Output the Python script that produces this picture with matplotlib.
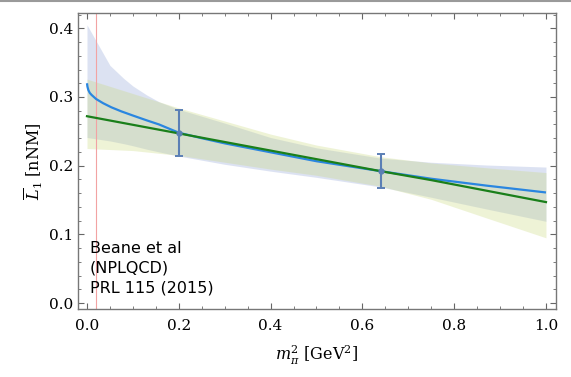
import matplotlib
matplotlib.use("Agg")
import matplotlib.pyplot as plt
from matplotlib.lines import Line2D
from matplotlib.ticker import MultipleLocator

plt.rcParams['font.family'] = ['DejaVu Serif']
plt.rcParams['mathtext.fontset'] = 'dejavuserif'

# ----- data -----
# chiral fit (blue) and its error band
chi_x = [0.0, 0.001, 0.003, 0.006, 0.01, 0.02, 0.035, 0.053, 0.075, 0.1, 0.13, 0.157, 0.2,
         0.25, 0.3, 0.4, 0.5, 0.64, 0.75, 0.87, 1.0]
chi_y = [0.320, 0.315, 0.310, 0.306, 0.303, 0.297, 0.291, 0.285, 0.279, 0.273, 0.266, 0.260, 0.248,
         0.240, 0.2325, 0.2195, 0.2065, 0.192, 0.181, 0.171, 0.161]
chi_band_x = [0.0, 0.05, 0.08, 0.1, 0.13, 0.157, 0.2, 0.25, 0.3, 0.4, 0.5, 0.64, 0.75, 0.87, 1.0]
chi_hi = [0.405, 0.346, 0.327, 0.316, 0.303, 0.293, 0.282, 0.272, 0.262, 0.241, 0.226, 0.211,
          0.205, 0.201, 0.198]
chi_lo = [0.241, 0.236, 0.232, 0.229, 0.224, 0.220, 0.214, 0.208, 0.202, 0.192, 0.183, 0.169,
          0.154, 0.137, 0.119]

# linear fit (green) and its error band
lin_x = [0.0, 0.2, 0.64, 0.75, 1.0]
lin_y = [0.272, 0.247, 0.192, 0.179, 0.147]
lin_band_x = [0.0, 0.1, 0.2, 0.3, 0.4, 0.5, 0.64, 0.75, 0.87, 1.0]
lin_hi = [0.326, 0.305, 0.284, 0.265, 0.246, 0.230, 0.213, 0.204, 0.197, 0.190]
lin_lo = [0.225, 0.222, 0.215, 0.205, 0.195, 0.186, 0.170, 0.151, 0.124, 0.095]

# lattice points
lat_x = [0.2, 0.64]
lat_y = [0.247, 0.192]
lat_hi = [0.281, 0.217]
lat_lo = [0.2135, 0.168]

mpi2_phys = 0.0195

# ----- plot -----
fig = plt.figure(figsize=(5.71, 3.77), dpi=100)
ax = fig.add_axes([0.1366, 0.1804, 0.8371, 0.7843])

ax.fill_between(chi_band_x, chi_lo, chi_hi, color='#8ea2d6', alpha=0.3, lw=0)
ax.fill_between(lin_band_x, lin_lo, lin_hi, color='#c8d87a', alpha=0.3, lw=0)
ax.axvline(mpi2_phys, color='#f2a3a3', lw=0.8)
ax.plot(chi_x, chi_y, color='#2a86e0', lw=1.6, solid_capstyle='butt')
ax.plot(lin_x, lin_y, color='#1a7f1a', lw=1.6)

yerr = [[y - lo for y, lo in zip(lat_y, lat_lo)],
        [hi - y for y, hi in zip(lat_y, lat_hi)]]
ax.errorbar(lat_x, lat_y, yerr=yerr, fmt='o', color='#5b7fb5', ms=3.5,
            elinewidth=1.5, capsize=3.2, capthick=1.4, zorder=5)

ax.text(0.025, 0.045, "Beane et al\n(NPLQCD)\nPRL 115 (2015)", transform=ax.transAxes,
        family='DejaVu Sans', fontsize=11.5, linespacing=1.4, va='bottom', ha='left')

ax.set_xlim(-0.0196, 1.0218)
ax.set_ylim(-0.0086, 0.4218)
ax.xaxis.set_major_locator(MultipleLocator(0.2))
ax.xaxis.set_minor_locator(MultipleLocator(0.05))
ax.yaxis.set_major_locator(MultipleLocator(0.1))
ax.yaxis.set_minor_locator(MultipleLocator(0.02))
ax.xaxis.set_major_formatter(plt.FuncFormatter(lambda v, p: f"{v:.1f}"))
ax.yaxis.set_major_formatter(plt.FuncFormatter(lambda v, p: f"{v:.1f}"))
ax.tick_params(which='both', direction='in', top=True, right=True, color='#666666',
               labelsize=11, labelcolor='black')
ax.tick_params(axis='x', which='major', pad=7)
ax.tick_params(which='major', length=4.5, width=0.8)
ax.tick_params(which='minor', length=2.5, width=0.6)
for s in ax.spines.values():
    s.set_color('#777777')
    s.set_linewidth(1.0)

ax.set_xlabel(r"$m_\pi^2$ [GeV$^2$]", fontsize=11.5, labelpad=8)
ax.set_ylabel(r"$\overline{L}_1$ [nNM]", fontsize=11.5, labelpad=3)

fig.add_artist(Line2D([0, 1], [0.997, 0.997], transform=fig.transFigure,
                      color='#9a9a9a', lw=1.5))

fig.savefig("out.png", dpi=100)
